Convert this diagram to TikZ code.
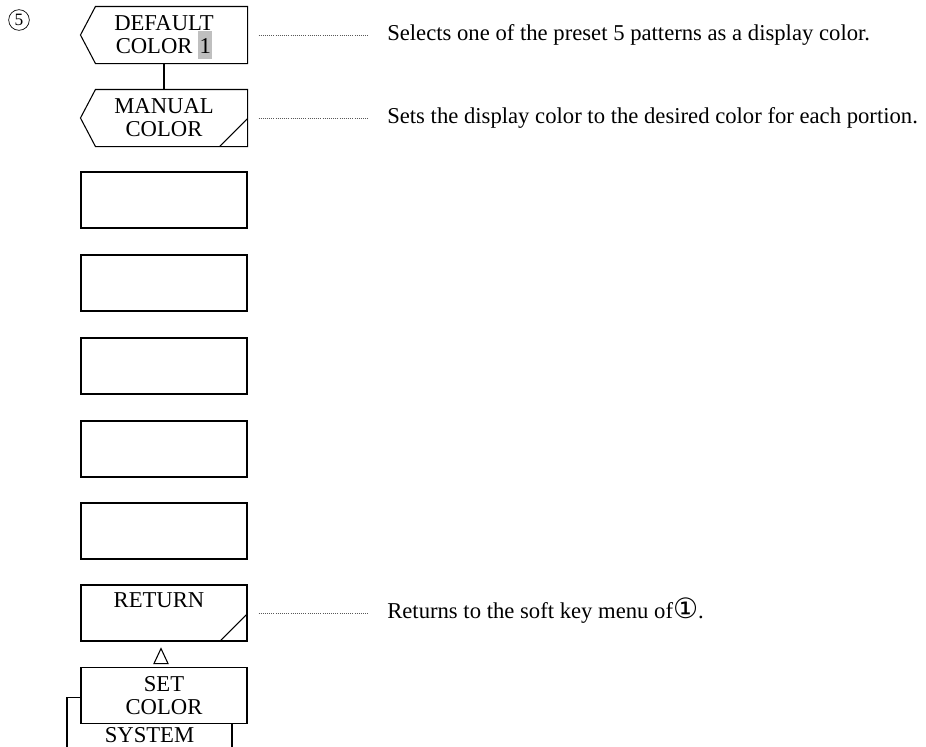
\documentclass[tikz,border=0pt]{standalone}
\usepackage{fontspec}
\setmainfont{Liberation Serif}
\newfontfamily\symfont{DejaVu Sans}
\usepackage{xcolor}
\usepackage{tikz}
\usetikzlibrary{positioning, calc}
\definecolor{keygray}{gray}{0.75}
\newcommand{\hilite}[1]{\smash{\setlength{\fboxsep}{1pt}\colorbox{keygray}{\rule[-2.75pt]{0pt}{19.25pt}#1}}}
\newcommand{\circled}[2]{{\symfont\fontsize{#1}{#1}\selectfont #2}}

\begin{document}
\begin{tikzpicture}[
      x=0.75pt, y=-0.75pt,
      every node/.style={font=\fontsize{17}{17.3}\selectfont},
      keybox/.style={rectangle, draw, line width=0.8pt, fill=white, minimum width=124.5pt, minimum height=42pt, inner sep=0pt, align=center},
      notchkey/.style={keybox, draw=none},
      leader/.style={densely dotted, line width=0.6pt, gray!70!black},
      descr/.style={anchor=west, inner sep=0pt}
    ]
      \clip (0,0) rectangle (926,747);
      \node[circle, draw, line width=0.5pt, minimum size=15.5pt, inner sep=0pt, font=\fontsize{13}{13}\selectfont] (num) at (19,20) {5};
      % soft keys
      \node[notchkey] (dflt) at (164,35) {DEFAULT\\COLOR \hilite{1}};
      \node[notchkey] (man) at (164,118) {MANUAL\\COLOR};
      \node[keybox] (k3) at (164,200) {};
      \node[keybox] (k4) at (164,283) {};
      \node[keybox] (k5) at (164,366) {};
      \node[keybox] (k6) at (164,449) {};
      \node[keybox] (k7) at (164,531) {};
      \node[keybox] (ret) at (164,613) {};
      \node[inner sep=0pt] (retlbl) at ($(ret.north)+(-5,16)$) {RETURN};
      \node[keybox, minimum width=123.75pt, minimum height=60pt, anchor=north] (sys) at (149.5,697) {};
      \node[inner sep=0pt] (syslbl) at (149.5,735) {SYSTEM};
      \node[keybox] (set) at (164,695.5) {SET\\COLOR};
      % notched outlines
      \foreach \k in {dflt, man}
        \draw[line width=0.8pt] ($(\k.north west)+(15,0)$) -- (\k.north east) -- (\k.south east)
          -- ($(\k.south west)+(15,0)$) -- (\k.west) -- cycle;
      \draw[line width=0.8pt] ($(man.south east)+(-28,0)$) -- ($(man.south east)+(0,-28)$);
      \draw[line width=0.8pt] ($(ret.south east)+(-28,0)$) -- ($(ret.south east)+(0,-28)$);
      \draw[line width=0.8pt] (dflt.south) -- (man.north);
      \draw[line width=0.8pt] ($(ret.south)+(-3,7)$) -- ($(ret.south)+(4,22)$) -- ($(ret.south)+(-10,22)$) -- cycle;
      % descriptions
      \node[descr] (sel) at (387,35) {Selects one of the preset 5 patterns as a display color.};
      \node[descr] (sets) at (387,118) {Sets the display color to the desired color for each portion.};
      \node[descr] (rets) at (387,613) {Returns to the soft key menu of\smash{\circled{21}{①}}.};
      \draw[leader, shorten <=8.25pt, shorten >=14pt] (dflt.east) -- (sel.west);
      \draw[leader, shorten <=8.25pt, shorten >=14pt] (man.east) -- (sets.west);
      \draw[leader, shorten <=8.25pt, shorten >=14pt] (ret.east) -- (rets.west);
    \end{tikzpicture}
\end{document}
